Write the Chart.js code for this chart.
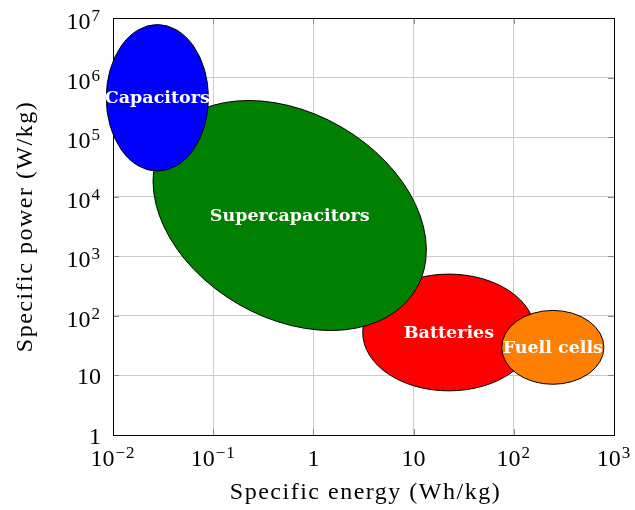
<!DOCTYPE html>
<html>
<head>
<meta charset="utf-8">
<script src="https://cdn.jsdelivr.net/npm/chart.js@4/dist/chart.umd.min.js"></script>
<style>
  html, body { margin: 0; padding: 0; background: #fff; }
</style>
</head>
<body>
<canvas id="ragone" width="635" height="510"></canvas>
<script>
// Ragone regions, drawn in this order (later ones on top)
const names = ['Batteries', 'Supercapacitors', 'Capacitors', 'Fuell cells'];
const energy = [22.5, 0.58, 0.0277, 245];        // Wh/kg, centre of region
const power = [52.6, 4840, 457000, 29.6];        // W/kg, centre of region
const energySpan = [0.86, 1.46, 0.51, 0.51];     // half width, decades
const powerSpan = [0.98, 1.72, 1.23, 0.62];      // half height, decades
const tilt = [0, 30, 0, 0];                      // degrees, clockwise
const fills = ['#ff0000', '#008000', '#0000ff', '#ff8000'];

const xTicks = [0.01, 0.1, 1, 10, 100, 1000];
const yTicks = [1, 10, 100, 1e3, 1e4, 1e5, 1e6, 1e7];
const xTickLabels = [['10', '−2'], ['10', '−1'], ['1', ''], ['10', ''], ['10', '2'], ['10', '3']];
const yTickLabels = [['1', ''], ['10', ''], ['10', '2'], ['10', '3'], ['10', '4'], ['10', '5'], ['10', '6'], ['10', '7']];

const SERIF = "'Liberation Serif', serif";

// box, tick marks, tick labels and axis titles
const frame = {
  id: 'frame',
  beforeDatasetsDraw(chart) {
    const { ctx, chartArea: a, scales: { x, y } } = chart;
    ctx.save();
    ctx.strokeStyle = '#8a8a8a';
    ctx.lineWidth = 1;
    ctx.beginPath();
    xTicks.forEach(v => {
      const px = Math.round(x.getPixelForValue(v)) + 0.5;
      ctx.moveTo(px, a.bottom); ctx.lineTo(px, a.bottom - 6);
      ctx.moveTo(px, a.top); ctx.lineTo(px, a.top + 6);
    });
    yTicks.forEach(v => {
      const py = Math.round(y.getPixelForValue(v)) + 0.5;
      ctx.moveTo(a.left, py); ctx.lineTo(a.left + 6, py);
      ctx.moveTo(a.right, py); ctx.lineTo(a.right - 6, py);
    });
    ctx.stroke();
    ctx.strokeStyle = '#000';
    ctx.strokeRect(Math.round(a.left) + 0.5, Math.round(a.top) + 0.5,
      Math.round(a.right - a.left), Math.round(a.bottom - a.top));

    const drawLabel = (base, sup, px, baseline, align) => {
      ctx.font = '24px ' + SERIF;
      const wb = ctx.measureText(base).width;
      ctx.font = '17px ' + SERIF;
      ctx.letterSpacing = '1px';
      const ws = sup ? ctx.measureText(sup).width + 1 : 0;
      const w = wb + ws;
      const left = align === 'center' ? px - w / 2 : px - w;
      ctx.fillStyle = '#000';
      ctx.textAlign = 'left';
      ctx.textBaseline = 'alphabetic';
      if (sup) ctx.fillText(sup, left + wb + 1, baseline - 8);
      ctx.letterSpacing = '0px';
      ctx.font = '24px ' + SERIF;
      ctx.fillText(base, left, baseline);
    };
    xTicks.forEach((v, i) => {
      drawLabel(xTickLabels[i][0], xTickLabels[i][1], x.getPixelForValue(v), 466, 'center');
    });
    yTicks.forEach((v, i) => {
      const py = y.getPixelForValue(v);
      drawLabel(yTickLabels[i][0], yTickLabels[i][1], 101, py + (yTickLabels[i][1] ? 11 : 9), 'right');
    });

    ctx.font = '24px ' + SERIF;
    ctx.letterSpacing = '1.5px';
    ctx.textAlign = 'center';
    ctx.fillText('Specific energy (Wh/kg)', (a.left + a.right) / 2 + 2, 499);
    ctx.translate(32, (a.top + a.bottom) / 2);
    ctx.rotate(-Math.PI / 2);
    ctx.fillText('Specific power (W/kg)', 0, 0);
    ctx.restore();
  }
};

// the regions themselves, sized through the log scales
const regions = {
  id: 'regions',
  afterDatasetsDraw(chart) {
    const { ctx, scales: { x, y } } = chart;
    names.forEach((name, i) => {
      const p = chart.getDatasetMeta(i).data[0];
      const rx = x.getPixelForValue(energy[i] * Math.pow(10, energySpan[i])) - p.x;
      const ry = p.y - y.getPixelForValue(power[i] * Math.pow(10, powerSpan[i]));
      ctx.save();
      ctx.beginPath();
      ctx.ellipse(p.x, p.y, rx, ry, tilt[i] * Math.PI / 180, 0, 2 * Math.PI);
      ctx.fillStyle = fills[i];
      ctx.fill();
      ctx.lineWidth = 1;
      ctx.strokeStyle = '#000';
      ctx.stroke();
      ctx.fillStyle = '#fff';
      ctx.font = "bold 17.5px 'DejaVu Serif', serif";
      ctx.textAlign = 'center';
      ctx.textBaseline = 'middle';
      ctx.fillText(name, p.x, p.y + 1);
      ctx.restore();
    });
  }
};

new Chart(document.getElementById('ragone'), {
  type: 'scatter',
  data: {
    datasets: names.map((name, i) => ({
      label: name,
      data: [{ x: energy[i], y: power[i] }],
      pointRadius: 0,
      pointHoverRadius: 0
    }))
  },
  options: {
    responsive: false,
    animation: false,
    events: [],
    layout: { padding: { left: 113, top: 18, right: 21, bottom: 75 } },
    plugins: { legend: { display: false }, tooltip: { enabled: false } },
    scales: {
      x: {
        type: 'logarithmic',
        min: 0.01, max: 1000,
        afterBuildTicks: s => { s.ticks = xTicks.map(v => ({ value: v })); },
        ticks: { display: false },
        grid: { color: '#cccccc', lineWidth: 1, drawTicks: false },
        border: { display: false }
      },
      y: {
        type: 'logarithmic',
        min: 1, max: 1e7,
        afterBuildTicks: s => { s.ticks = yTicks.map(v => ({ value: v })); },
        ticks: { display: false },
        grid: { color: '#cccccc', lineWidth: 1, drawTicks: false },
        border: { display: false }
      }
    }
  },
  plugins: [frame, regions]
});
</script>
</body>
</html>
